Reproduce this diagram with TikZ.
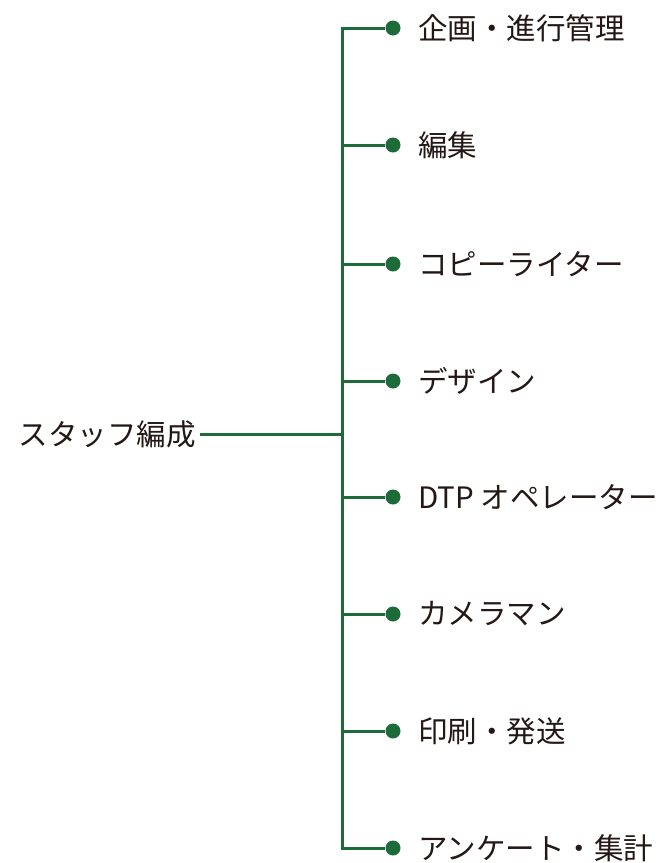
\documentclass[tikz,border=0pt]{standalone}
\usepackage{fontspec}
\newfontfamily\jpfont{Noto Sans CJK JP}
\usepackage{tikz}
\definecolor{stemgreen}{HTML}{1E6B3A}
\definecolor{inkdark}{HTML}{231815}

\begin{document}
\begin{tikzpicture}[x=1pt,y=1pt,
        branch/.style={draw=stemgreen,line width=3pt},
        dot/.style={shape=circle,fill=stemgreen,inner sep=0pt,minimum size=15pt},
        lbl/.style={anchor=west,inner sep=0pt,text=inkdark,font=\jpfont\fontsize{29.5}{33}\selectfont}]
        \useasboundingbox (0,0) rectangle (659,-863);

        \node[lbl,anchor=east] (root) at (196,-434) {スタッフ編成};

        \coordinate (jr) at (342,-434);
        \coordinate (j1) at (342,-28);
        \coordinate (j2) at (342,-145);
        \coordinate (j3) at (342,-264);
        \coordinate (j4) at (342,-381);
        \coordinate (j5) at (342,-497);
        \coordinate (j6) at (342,-614);
        \coordinate (j7) at (342,-731);
        \coordinate (j8) at (342,-848);

        \node[dot] (d1) at (393,-28)  {};
        \node[dot] (d2) at (393,-145) {};
        \node[dot] (d3) at (393,-264) {};
        \node[dot] (d4) at (393,-381) {};
        \node[dot] (d5) at (393,-497) {};
        \node[dot] (d6) at (393,-614) {};
        \node[dot] (d7) at (393,-731) {};
        \node[dot] (d8) at (393,-848) {};

        \node[lbl] (l1) at (418,-28)  {企画・進行管理};
        \node[lbl] (l2) at (418,-145) {編集};
        \node[lbl] (l3) at (418,-264) {コピーライター};
        \node[lbl] (l4) at (418,-381) {デザイン};
        \node[lbl] (l5) at (418,-497) {DTP オペレーター};
        \node[lbl] (l6) at (418,-614) {カメラマン};
        \node[lbl] (l7) at (418,-731) {印刷・発送};
        \node[lbl] (l8) at (418,-848) {アンケート・集計};

	\path[branch] (root.east) ++(4,0) -- (jr);
	\path[branch,line cap=rect] (j1) -- (j8);
	\path[branch] (j1) -- (d1);
	\path[branch] (j2) -- (d2);
	\path[branch] (j3) -- (d3);
	\path[branch] (j4) -- (d4);
	\path[branch] (j5) -- (d5);
	\path[branch] (j6) -- (d6);
	\path[branch] (j7) -- (d7);
	\path[branch] (j8) -- (d8);
\end{tikzpicture}
\end{document}
